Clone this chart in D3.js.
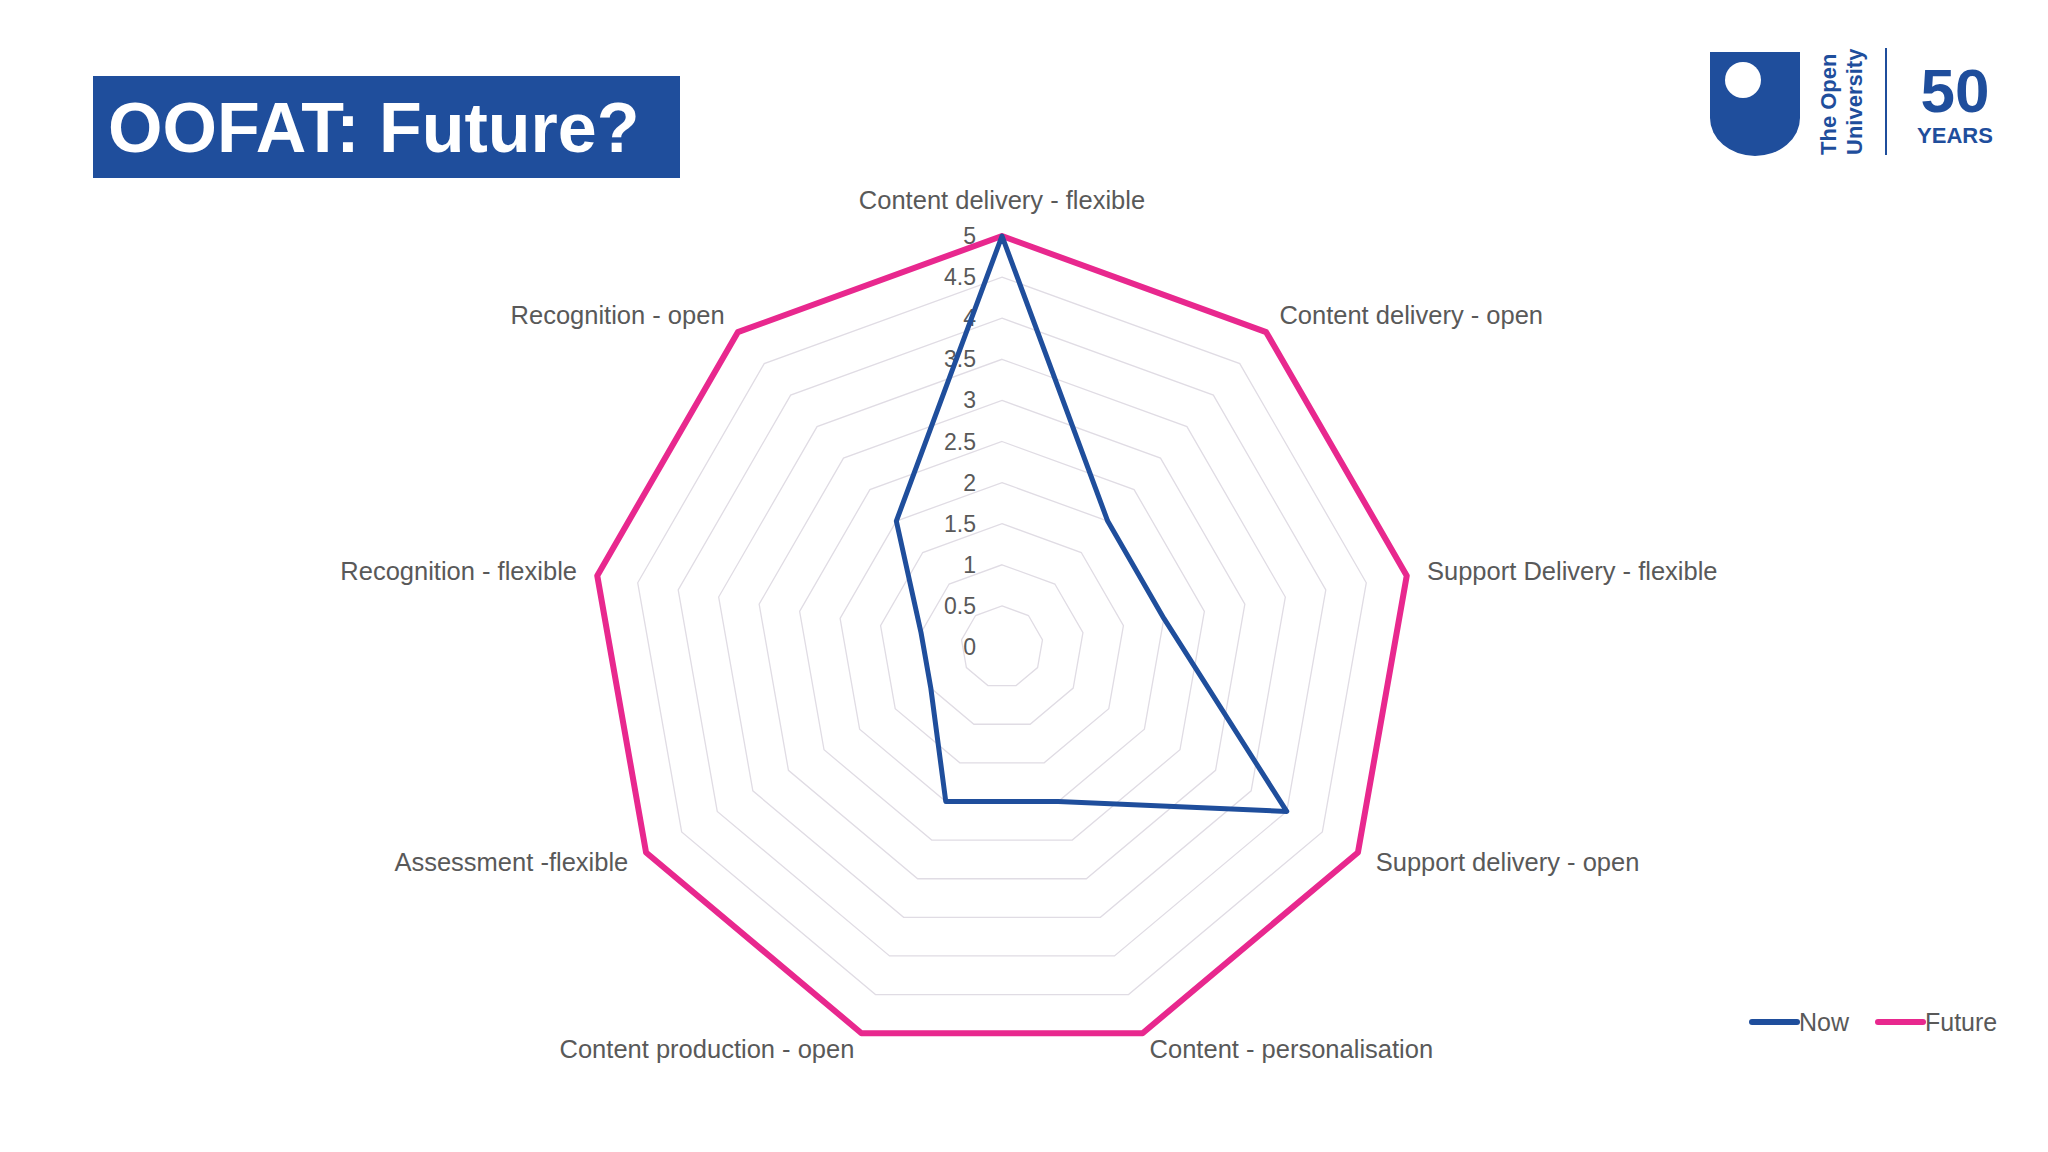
<!DOCTYPE html>
<html>
<head>
<meta charset="utf-8">
<script src="https://cdn.jsdelivr.net/npm/d3@7"></script>
<style>
  body { margin: 0; background: #fff; }
  text { font-family: "Liberation Sans", Arial, sans-serif; }
</style>
</head>
<body>
<svg id="chart" width="2048" height="1152"></svg>
<script>
const categories = [
  "Content delivery - flexible", "Content delivery - open", "Support Delivery - flexible",
  "Support delivery - open", "Content - personalisation", "Content production - open",
  "Assessment -flexible", "Recognition - flexible", "Recognition - open"
];
const nowValues = [5, 2, 2, 4, 2, 2, 1, 1, 2];
const futureValues = [5, 5, 5, 5, 5, 5, 5, 5, 5];
const ticks = [0, 0.5, 1, 1.5, 2, 2.5, 3, 3.5, 4, 4.5, 5];

const svg = d3.select("#chart");
const cx = 1002, cy = 647, R = 411;
const r = d3.scaleLinear().domain([0, 5]).range([0, R]);
const angle = i => i * 2 * Math.PI / categories.length;
const pt = (i, v) => [cx + r(v) * Math.sin(angle(i)), cy - r(v) * Math.cos(angle(i))];

// title box
svg.append("rect").attr("x", 93).attr("y", 76).attr("width", 587).attr("height", 102).attr("fill", "#1f4e9c");
svg.append("text").attr("x", 108).attr("y", 152).attr("fill", "#fff")
  .attr("font-size", 70).attr("font-weight", "bold").text("OOFAT: Future?");

// logo (simplified)
const logo = svg.append("g");
logo.append("path").attr("d", "M1710,52 H1800 V118 A45,38 0 0 1 1710,118 Z").attr("fill", "#1f4e9c");
logo.append("circle").attr("cx", 1743).attr("cy", 80).attr("r", 18).attr("fill", "#fff");
logo.append("text").attr("transform", "translate(1836,155) rotate(-90)").attr("font-size", 22)
  .attr("font-weight", "bold").attr("fill", "#1f4e9c").text("The Open");
logo.append("text").attr("transform", "translate(1862,155) rotate(-90)").attr("font-size", 22)
  .attr("font-weight", "bold").attr("fill", "#1f4e9c").text("University");
logo.append("line").attr("x1", 1886).attr("x2", 1886).attr("y1", 48).attr("y2", 155)
  .attr("stroke", "#1f4e9c").attr("stroke-width", 2);
logo.append("text").attr("x", 1955).attr("y", 112).attr("text-anchor", "middle").attr("font-size", 62)
  .attr("font-weight", "bold").attr("fill", "#1f4e9c").text("50");
logo.append("text").attr("x", 1955).attr("y", 143).attr("text-anchor", "middle").attr("font-size", 22)
  .attr("font-weight", "bold").attr("fill", "#1f4e9c").text("YEARS");

// grid rings
const line = d3.line().curve(d3.curveLinearClosed);
ticks.slice(1).forEach(t => {
  svg.append("path").attr("d", line(categories.map((c, i) => pt(i, t))))
    .attr("fill", "none").attr("stroke", "#e0dce4").attr("stroke-width", 1.3);
});

// tick labels
ticks.forEach(t => {
  svg.append("text").attr("x", cx - 26).attr("y", cy - r(t) + 8).attr("text-anchor", "end")
    .attr("font-size", 23).attr("fill", "#595959").text(t);
});

// category labels
categories.forEach((c, i) => {
  const a = angle(i);
  const [x, y] = pt(i, 5.25);
  const s = Math.sin(a);
  const anchor = Math.abs(s) < 0.1 ? "middle" : (s > 0 ? "start" : "end");
  let dy = 8;
  if (i === 0) dy = -6;
  if (i === 4 || i === 5) dy = 5;
  svg.append("text").attr("x", x).attr("y", y + dy).attr("text-anchor", anchor)
    .attr("font-size", 25.5).attr("fill", "#595959").text(c);
});

// series
svg.append("path").attr("d", line(futureValues.map((v, i) => pt(i, v))))
  .attr("fill", "none").attr("stroke", "#e8288e").attr("stroke-width", 6).attr("stroke-linejoin", "round");
svg.append("path").attr("d", line(nowValues.map((v, i) => pt(i, v))))
  .attr("fill", "none").attr("stroke", "#1f4e9c").attr("stroke-width", 5).attr("stroke-linejoin", "round");

// legend
const legend = [["Now", "#1f4e9c", 1752], ["Future", "#e8288e", 1878]];
legend.forEach(([name, col, x]) => {
  svg.append("line").attr("x1", x).attr("x2", x + 45).attr("y1", 1022).attr("y2", 1022)
    .attr("stroke", col).attr("stroke-width", 6).attr("stroke-linecap", "round");
  svg.append("text").attr("x", x + 47).attr("y", 1031).attr("font-size", 25).attr("fill", "#595959").text(name);
});
</script>
</body>
</html>
